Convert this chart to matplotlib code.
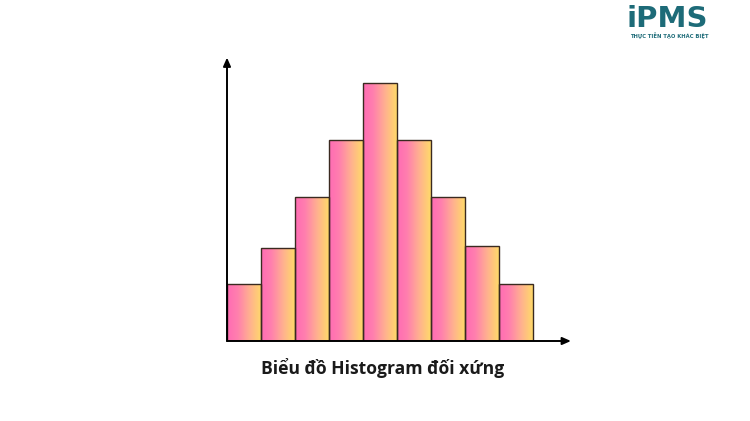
#!/usr/bin/env python3
# plot.py — symmetric histogram with pink→yellow gradient bars
import numpy as np
import matplotlib
matplotlib.use("Agg")
import matplotlib.pyplot as plt
from matplotlib.colors import LinearSegmentedColormap

BINS = list(range(9))
COUNTS = [1.1, 1.8, 2.8, 3.9, 5.0, 3.9, 2.8, 1.85, 1.1]
TITLE = "Biểu đồ Histogram đối xứng"
LOGO = "iPMS"
SLOGAN = "THỰC TIỄN TẠO KHÁC BIỆT"

W, H = 750, 421
fig = plt.figure(figsize=(W / 100, H / 100), dpi=100)
fig.patch.set_facecolor("white")

# axes box in pixel coords: x 227..575, y 55..341 (from top)
ax = fig.add_axes([227 / W, (H - 341) / H, (575 - 227) / W, (341 - 55) / H])
ax.axis("off")

grad = LinearSegmentedColormap.from_list(
    "pk", [(0, "#ff6cb4"), (0.3, "#ff7fae"), (0.65, "#ffb090"), (1, "#ffd96a")])
img = np.linspace(0, 1, 64).reshape(1, -1)
for x, h in zip(BINS, COUNTS):
    bar = ax.bar(x, h, width=1.0, align="edge", facecolor="none",
                 edgecolor="#3a2a20", linewidth=1.0, zorder=3)[0]
    im = ax.imshow(img, cmap=grad, aspect="auto", extent=[x, x + 1, 0, h],
                   zorder=2, interpolation="bicubic")
    im.set_clip_path(bar)

ax.set_xlim(0, (575 - 227) / 34.0)
ax.set_ylim(0, (341 - 55) / 51.6)

xmax, ymax = ax.get_xlim()[1], ax.get_ylim()[1]
arrow = dict(arrowstyle="-|>,head_length=0.5,head_width=0.22", color="black",
             lw=1.4, shrinkA=0, shrinkB=0)
ax.annotate("", xy=(xmax - 0.12, 0), xytext=(0, 0), arrowprops=arrow,
            annotation_clip=False, zorder=4)
ax.annotate("", xy=(0, ymax - 0.05), xytext=(0, 0), arrowprops=arrow,
            annotation_clip=False, zorder=4)

fig.text(383 / W, 1 - 368 / H, TITLE, ha="center", va="center",
         fontsize=12.6, fontweight="bold", family="Open Sans", color="#1a1a1a")

fig.text(667 / W, 1 - 19 / H, LOGO, ha="center", va="center", fontsize=21,
         fontweight="bold", family="DejaVu Sans", color="#1d6b78")
fig.text(669 / W, 1 - 36 / H, SLOGAN, ha="center", va="center", fontsize=3.8,
         fontweight="bold", family="DejaVu Sans", color="#1d6b78")

fig.savefig("out.png", dpi=100)
